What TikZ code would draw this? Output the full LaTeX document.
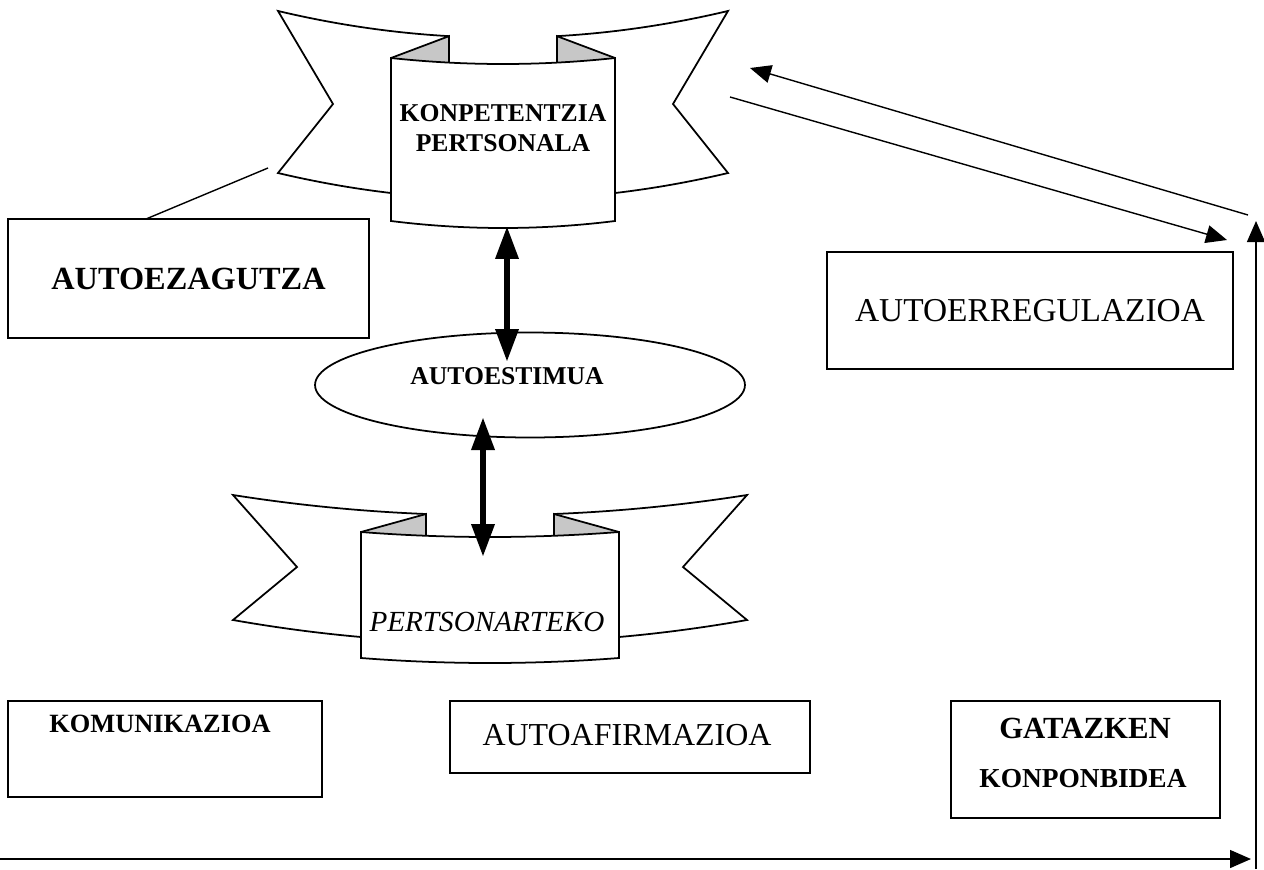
\documentclass[tikz,border=0pt]{standalone}
\usepackage{fontspec}
\setmainfont{Liberation Serif}
\usetikzlibrary{arrows.meta,shapes.geometric}

% Ribbon banner: two folded wings behind a curved central panel.
% #1 centre x, #2 outer, #3 notch, #4 fold, #5 panel half-widths, #6 notch y.
% The curves topwing, botwing, toppanel, botpanel come from the enclosing scope.
\newcommand\drawribbon[6]{%
  \foreach \s in {-1,1}{
    \pgfmathsetmacro\rbo{#1+\s*#2}
    \pgfmathsetmacro\rbn{#1+\s*#3}
    \pgfmathsetmacro\rbf{#1+\s*#4}
    \pgfmathsetmacro\rbp{#1+\s*#5}
    \draw[outline,fill=white] (\rbf,{toppanel(\rbf)})
      -- plot[domain=\rbf:\rbo,samples=24] (\x,{topwing(\x)})
      -- (\rbn,#6)
      -- plot[domain=\rbo:\rbp,samples=24] (\x,{botwing(\x)})
      -- plot[domain=\rbp:\rbf,samples=12] (\x,{toppanel(\x)}) -- cycle;
    \fill[fold] plot[domain=\rbf:\rbp,samples=12] (\x,{toppanel(\x)})
      -- (\rbf,{topwing(\rbf)}) -- cycle;
    \draw[outline] (\rbp,{toppanel(\rbp)}) -- (\rbf,{topwing(\rbf)}) -- (\rbf,{toppanel(\rbf)});
  }
  \pgfmathsetmacro\rbl{#1-#5}
  \pgfmathsetmacro\rbr{#1+#5}
  \draw[outline,fill=white] plot[domain=\rbl:\rbr,samples=30] (\x,{toppanel(\x)})
    -- plot[domain=\rbr:\rbl,samples=30] (\x,{botpanel(\x)}) -- cycle;
}

\begin{document}
\begin{tikzpicture}[x=0.02cm,y=-0.02cm,
  outline/.style={draw=black,line width=1pt,line join=miter},
  fold/.style={fill=black!22},
  box/.style={draw=black,line width=1.1pt,fill=white,rectangle,inner sep=0pt},
  oval/.style={draw=black,line width=1pt,fill=white,ellipse,inner sep=0pt},
  thin/.style={draw=black,line width=0.8pt},
  thinarrow/.style={thin,-{Triangle[width=0.36cm,length=0.42cm]}},
  bigarrow/.style={draw=black,line width=0.13cm,
    {Triangle[width=0.44cm,length=0.66cm]}-{Triangle[width=0.44cm,length=0.66cm]}},
  lab/.style={inner sep=0pt,anchor=base},
]
\useasboundingbox (0,0) rectangle (1264,869);

% upper banner
\begin{scope}[declare function={
    topwing(\x)=37.7-5.28*((\x-503)/100)*((\x-503)/100);
    botwing(\x)=199.6-5.25*((\x-503)/100)*((\x-503)/100);
    toppanel(\x)=64-4.78*((\x-503)/100)*((\x-503)/100);
    botpanel(\x)=228-5.58*((\x-503)/100)*((\x-503)/100);}]
  \drawribbon{503}{225}{170}{54}{112}{104}
\end{scope}
\node[lab,font=\bfseries\fontsize{14.6}{16}\selectfont] (kp1) at (503,121) {KONPETENTZIA};
\node[lab,font=\bfseries\fontsize{14.6}{16}\selectfont] (kp2) at (503,151) {PERTSONALA};

% lower banner
\begin{scope}[declare function={
    topwing(\x)=515.26-3.067*((\x-490)/100)*((\x-490)/100);
    botwing(\x)=642.73-3.441*((\x-490)/100)*((\x-490)/100);
    toppanel(\x)=537-3.005*((\x-490)/100)*((\x-490)/100);
    botpanel(\x)=663-3.005*((\x-490)/100)*((\x-490)/100);}]
  \drawribbon{490}{257}{193}{64}{129}{567}
\end{scope}
\node[lab,font=\itshape\fontsize{16.6}{18}\selectfont] (pers) at (487,631) {PERTSONARTEKO};

% boxes
\node[box,minimum width=7.22cm,minimum height=2.38cm,
      font=\bfseries\fontsize{18.4}{20}\selectfont] (autoez) at (188.5,278.5) {AUTOEZAGUTZA};
\node[box,minimum width=8.12cm,minimum height=2.34cm,
      font=\fontsize{19}{21}\selectfont] (autoreg) at (1030,310.5) {AUTOERREGULAZIOA};
\node[box,minimum width=6.28cm,minimum height=1.92cm] (komb) at (165,749) {};
\node[lab,font=\bfseries\fontsize{15}{17}\selectfont] (komt) at (160,732) {KOMUNIKAZIOA};
\node[box,minimum width=7.2cm,minimum height=1.44cm] (afb) at (630,737) {};
\node[lab,font=\fontsize{18.2}{20}\selectfont] (aft) at (627,745) {AUTOAFIRMAZIOA};
\node[box,minimum width=5.38cm,minimum height=2.34cm] (gab) at (1085.5,759.5) {};
\node[lab,font=\bfseries\fontsize{17.5}{19}\selectfont] (ga1) at (1085,738) {GATAZKEN};
\node[lab,font=\bfseries\fontsize{15.6}{17}\selectfont] (ga2) at (1083,787) {KONPONBIDEA};

% self-esteem ellipse
\node[oval,minimum width=8.6cm,minimum height=2.1cm] (aes) at (530,385) {};
\node[lab,anchor=base west,font=\bfseries\fontsize{14.6}{16}\selectfont] (aest) at (410,384) {AUTOESTIMUA};

% connector ends
\coordinate (ezA) at (146,219);
\coordinate (ezB) at (268,168);
\coordinate (fbA) at (1248,215);
\coordinate (fbB) at (750,68);
\coordinate (fwA) at (730,97);
\coordinate (fwB) at (1227,240);
\coordinate (vA) at (1256,869);
\coordinate (vB) at (1256,221);
\coordinate (hA) at (0,859);
\coordinate (hB) at (1251,859);
\coordinate (upA) at (507,226);
\coordinate (upB) at (507,362);
\coordinate (loA) at (483,417);
\coordinate (loB) at (483,557);

% connectors
\draw[thin] (ezA) -- (ezB);
\draw[thinarrow] (fbA) -- (fbB);
\draw[thinarrow] (fwA) -- (fwB);
\draw[thinarrow] (vA) -- (vB);
\draw[thinarrow] (hA) -- (hB);
\draw[bigarrow] (upA) -- (upB);
\draw[bigarrow] (loA) -- (loB);
\end{tikzpicture}
\end{document}
